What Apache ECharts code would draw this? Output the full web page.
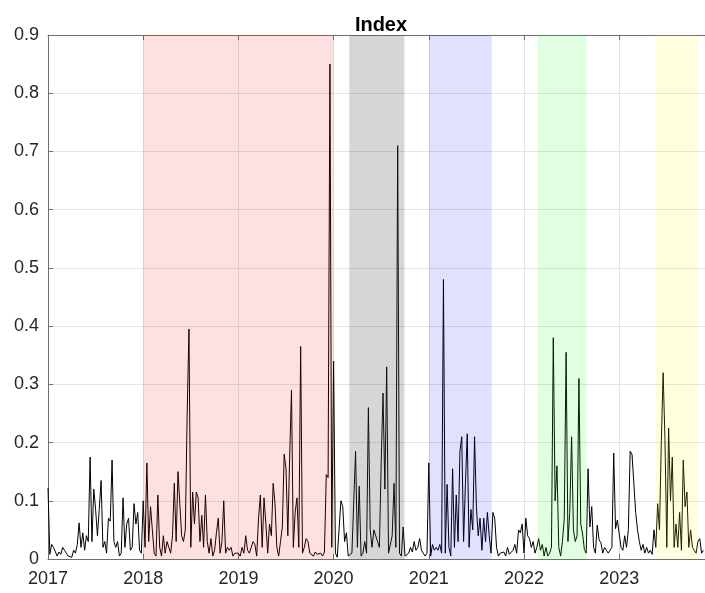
<!DOCTYPE html>
<html>
<head>
<meta charset="utf-8">
<script src="https://cdn.jsdelivr.net/npm/echarts@6/dist/echarts.min.js"></script>
<style>
html,body{margin:0;padding:0;background:#fff;}
#chart{width:705px;height:593px;}
</style>
</head>
<body>
<div id="chart"></div>
<script>
// Weekly index values, one array per year (week 0 = start of year)
const values2017 = [0.122,0.008,0.025,0.02,0.022,0.005,0.012,0.008,0.02,0.015,0.01,0.005,0.008,0.003,0.015,0.01,0.025,0.062,0.02,0.045,0.015,0.04,0.03,0.175,0.03,0.12,0.085,0.04,0.085,0.135,0.02,0.03,0.01,0.07,0.065,0.17,0.03,0.02,0.03,0.005,0.01,0.105,0.02,0.06,0.07,0.015,0.02,0.095,0.06,0.08,0.015,0.01];
const values2018 = [0.1,0.02,0.165,0.03,0.09,0.05,0.01,0.005,0.11,0.02,0.005,0.04,0.01,0.03,0.02,0.01,0.04,0.13,0.03,0.15,0.095,0.04,0.03,0.05,0.245,0.395,0.02,0.115,0.06,0.115,0.105,0.03,0.075,0.02,0.11,0.03,0.01,0.035,0.005,0.015,0.045,0.07,0.01,0.03,0.1,0.01,0.02,0.015,0.02,0.005,0.01,0.008];
const values2019 = [0.01,0.005,0.02,0.01,0.04,0.015,0.01,0.008,0.03,0.025,0.005,0.07,0.11,0.02,0.105,0.06,0.01,0.06,0.04,0.13,0.095,0.02,0.005,0.03,0.055,0.18,0.155,0.04,0.175,0.29,0.02,0.08,0.105,0.02,0.365,0.01,0.02,0.035,0.03,0.01,0.01,0.005,0.012,0.008,0.01,0.01,0.005,0.012,0.145,0.14,0.85,0.02];
const values2020 = [0.34,0.01,0.003,0.005,0.1,0.09,0.03,0.045,0.005,0.008,0.01,0.01,0.185,0.02,0.125,0.005,0.01,0.03,0.01,0.26,0.05,0.02,0.05,0.05,0.03,0.02,0.165,0.285,0.12,0.33,0.01,0.01,0.04,0.13,0.02,0.71,0.01,0.005,0.055,0.005,0.005,0.01,0.02,0.012,0.03,0.015,0.02,0.035,0.015,0.01,0.005,0.01];
const values2021 = [0.165,0.005,0.025,0.015,0.02,0.015,0.025,0.01,0.48,0.01,0.128,0.02,0.005,0.155,0.02,0.11,0.03,0.185,0.21,0.03,0.13,0.215,0.02,0.085,0.05,0.21,0.09,0.04,0.07,0.015,0.07,0.03,0.08,0.04,0.01,0.08,0.07,0.02,0.005,0.01,0.008,0.012,0.005,0.02,0.008,0.01,0.015,0.025,0.01,0.05,0.045,0.06];
const values2022 = [0.01,0.07,0.04,0.035,0.02,0.03,0.01,0.02,0.035,0.015,0.025,0.005,0.02,0.005,0.01,0.02,0.38,0.1,0.16,0.02,0.005,0.03,0.07,0.355,0.03,0.08,0.21,0.05,0.03,0.04,0.31,0.06,0.043,0.016,0.01,0.155,0.055,0.09,0.02,0.01,0.058,0.033,0.028,0.01,0.02,0.015,0.01,0.015,0.02,0.182,0.052,0.067];
const values2023 = [0.07,0.02,0.015,0.04,0.02,0.05,0.185,0.18,0.18,0.08,0.05,0.03,0.015,0.025,0.01,0.02,0.01,0.015,0.008,0.05,0.02,0.095,0.05,0.2,0.32,0.205,0.02,0.225,0.1,0.175,0.02,0.06,0.02,0.08,0.015,0.17,0.09,0.115,0.02,0.05,0.02,0.015,0.01,0.03,0.035,0.01,0.015];

const years = [2017,2018,2019,2020,2021,2022,2023];
const yearlyValues = [values2017,values2018,values2019,values2020,values2021,values2022,values2023];

// Shaded periods (decimal years)
const periodStart = [2018.0, 2020.165, 2021.002, 2022.144, 2023.383];
const periodEnd   = [2020.0, 2020.743, 2021.661, 2022.658, 2023.825];

// y-axis ticks
const yTicks = ['0','0.1','0.2','0.3','0.4','0.5','0.6','0.7','0.8','0.9'];

// styles
const periodFill = ['rgba(255,0,0,0.12)','rgba(70,70,70,0.22)','rgba(0,0,255,0.12)','rgba(0,255,0,0.12)','rgba(255,255,0,0.12)'];

const lineData = [];
years.forEach((y, k) => {
  yearlyValues[k].forEach((v, i) => lineData.push([y + i / 52, v]));
});
const periodData = periodStart.map((s, i) => [s, periodEnd[i], i]);

const FONT = '"Liberation Sans", Arial, Helvetica, sans-serif';
const axisGray = '#6e6e6e';
const xMax = 2017 + 657 / 95.2;

const chart = echarts.init(document.getElementById('chart'), null, {renderer: 'canvas'});
chart.setOption({
  animation: false,
  backgroundColor: '#fff',
  title: {
    text: 'Index',
    left: 376,
    textAlign: 'center',
    top: 10,
    textStyle: {fontFamily: FONT, fontSize: 20, fontWeight: 'bold', color: '#000'}
  },
  grid: {left: 48, right: 0, top: 35, bottom: 34, containLabel: false},
  xAxis: [{
    type: 'value', min: 2017, max: xMax, interval: 1,
    axisLine: {show: true, lineStyle: {color: axisGray, width: 1}},
    axisTick: {show: true, inside: true, length: 5, lineStyle: {color: axisGray}},
    axisLabel: {
      fontFamily: FONT, fontSize: 18, color: '#262626', margin: 11,
      showMaxLabel: false,
      formatter: v => (Math.abs(v - Math.round(v)) < 1e-6 ? String(Math.round(v)) : '')
    },
    splitLine: {show: true, lineStyle: {color: '#e3e3e3', width: 1}}
  }, {
    type: 'value', position: 'top', min: 2017, max: xMax, interval: 1,
    axisLine: {show: true, onZero: false, lineStyle: {color: axisGray, width: 1}},
    axisTick: {show: true, inside: true, length: 5, lineStyle: {color: axisGray}},
    axisLabel: {show: false},
    splitLine: {show: false}
  }],
  yAxis: {
    type: 'value', min: 0, max: 0.9, interval: 0.1,
    axisLine: {show: true, lineStyle: {color: axisGray, width: 1}},
    axisTick: {show: true, inside: true, length: 5, lineStyle: {color: axisGray}},
    axisLabel: {
      fontFamily: FONT, fontSize: 18, color: '#262626', margin: 9,
      formatter: (v) => yTicks[Math.round(v * 10)]
    },
    splitLine: {show: true, lineStyle: {color: '#e3e3e3', width: 1}}
  },
  series: [{
    type: 'line',
    data: lineData,
    showSymbol: false,
    symbol: 'none',
    sampling: null,
    z: 2,
    lineStyle: {color: '#000', width: 1}
  }, {
    type: 'custom',
    z: 5,
    silent: true,
    data: periodData,
    encode: {x: [0, 1]},
    clip: true,
    renderItem: function (params, api) {
      const p0 = api.coord([api.value(0), 0.9]);
      const p1 = api.coord([api.value(1), 0]);
      return {
        type: 'rect',
        shape: {x: p0[0], y: p0[1], width: p1[0] - p0[0], height: p1[1] - p0[1]},
        style: {fill: periodFill[api.value(2)]}
      };
    }
  }]
});
</script>
</body>
</html>
